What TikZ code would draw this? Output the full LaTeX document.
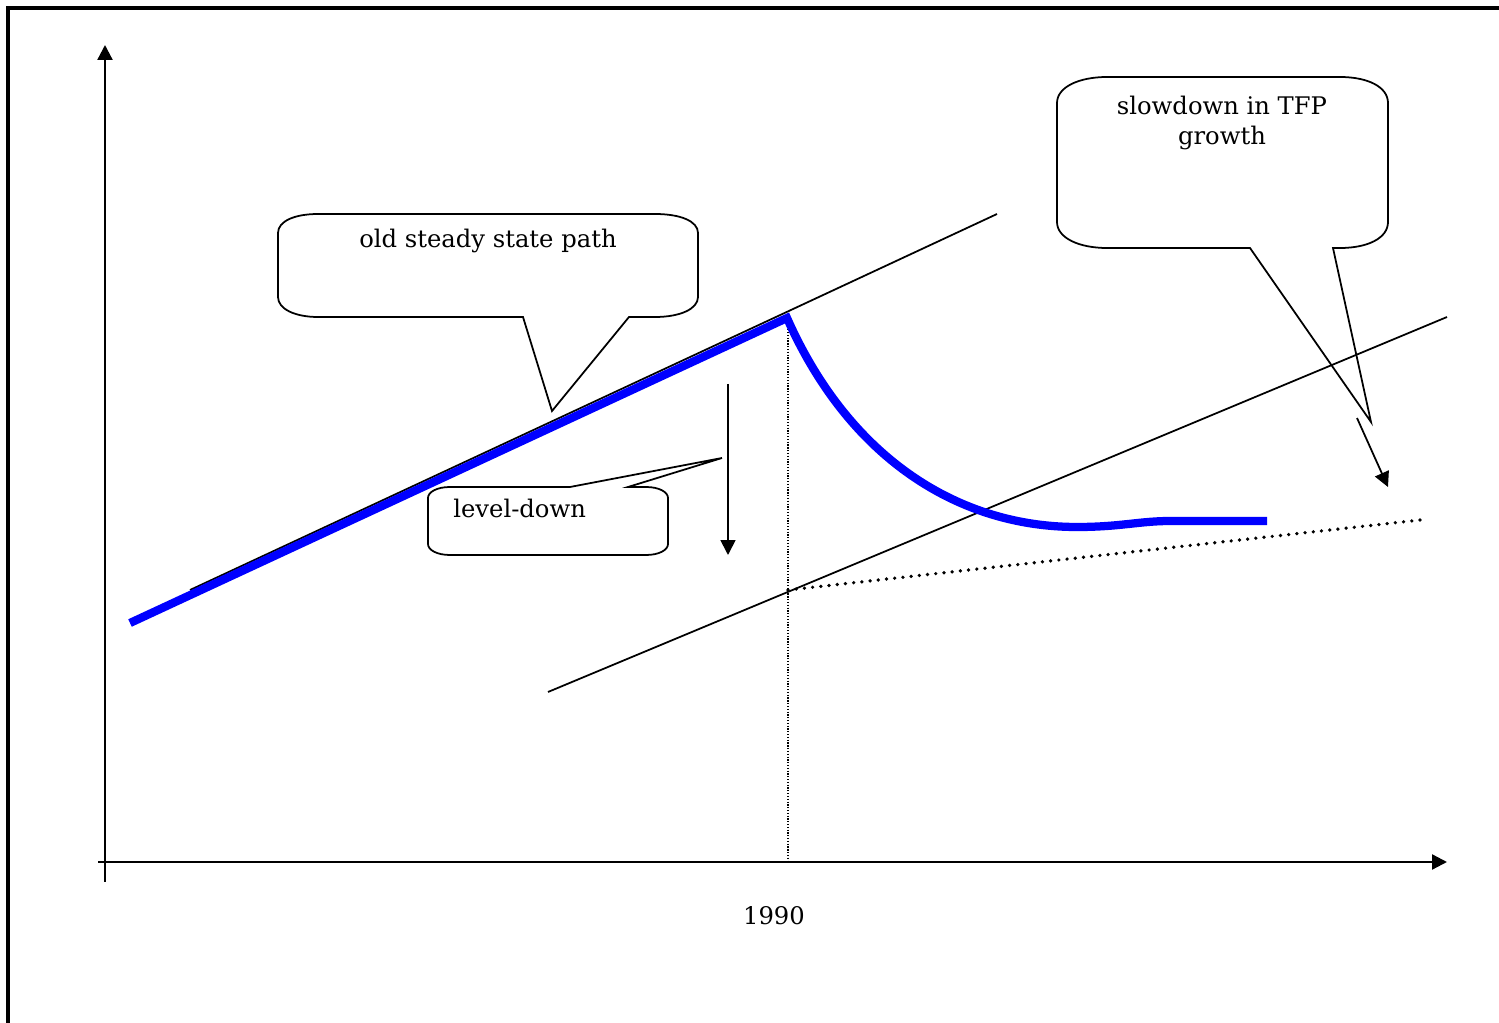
\documentclass[tikz,border=0pt]{standalone}
\usepackage{fontspec}
\setmainfont{DejaVu Serif}
\usetikzlibrary{arrows.meta}

\begin{document}
\begin{tikzpicture}[x=0.02cm, y=-0.02cm,
        axis/.style={line width=1.3pt, -{Triangle[length=8.5pt, width=8.5pt]}},
        thinline/.style={line width=1pt},
        bubble/.style={line width=1pt, line join=miter},
        txt/.style={font=\fontsize{13.8}{17.6}\selectfont, align=center, inner sep=0pt}]
        \useasboundingbox (0,0) rectangle (1499,1023);

        % Frame:
        \draw [line width=1.8pt] (8,1030) -- (8,8) -- (1510,8);

        % Axes:
        \draw [axis] (105,882) -- (105,45);
        \draw [axis] (98,862) -- (1447,862);
        \node [txt] (year) at (774,916) {1990};

        % Steady state paths
        \coordinate (oldA) at (190,590);
        \coordinate (oldB) at (997,214);
        \coordinate (newA) at (548,692);
        \coordinate (newB) at (1447,317);
        \coordinate (brk) at (788,590);
        \coordinate (brkTop) at (788,318);
        \coordinate (brkAxis) at (788,862);
        \draw [thinline] (oldA) -- (oldB);
        \draw [thinline] (newA) -- (newB);
        \draw [line width=2.1pt, dash pattern=on 0pt off 4.7pt, line cap=round] (brk) -- (1420,520);
        \draw [line width=0.7pt, dash pattern=on 0.7pt off 0.9pt] (brkTop) -- (brkAxis);

        % Actual path
        \draw [blue, line width=4.7pt] (130,623) -- (787,318)
        .. controls (850,460) and (960,527) .. (1077,527)
        .. controls (1120,527) and (1140,521) .. (1170,521) -- (1267,521);

        % Callouts:
        \draw [bubble] (523,317) -- (552,411) -- (629,317) -- (655,317)
        .. controls (680,317) and (698,309) .. (698,297) -- (698,233)
        .. controls (698,221) and (680,214) .. (655,214) -- (318,214)
        .. controls (295,214) and (278,221) .. (278,233) -- (278,297)
        .. controls (278,309) and (295,317) .. (318,317) -- cycle;
        \node [txt, anchor=base] (oldlbl) at (488,248) {old steady state path};

        \draw [bubble] (570,487) -- (722,458) -- (628,487) -- (646,487)
        .. controls (659,487) and (668,492) .. (668,498) -- (668,544)
        .. controls (668,550) and (659,555) .. (646,555) -- (450,555)
        .. controls (437,555) and (428,550) .. (428,544) -- (428,498)
        .. controls (428,492) and (437,487) .. (450,487) -- cycle;
        \node [txt, anchor=base west] (levellbl) at (453,518) {level-down};

        \draw [bubble] (1250,248) -- (1371,422) -- (1333,248) -- (1340,248)
        .. controls (1368,248) and (1388,238) .. (1388,222) -- (1388,103)
        .. controls (1388,87) and (1368,77) .. (1340,77) -- (1107,77)
        .. controls (1079,77) and (1057,87) .. (1057,103) -- (1057,222)
        .. controls (1057,238) and (1079,248) .. (1107,248) -- cycle;
        \node [txt] (tfplbl) at (1222,123) {slowdown in TFP\\growth};

        % Shift arrows
        \coordinate (dropA) at (728,384);
        \coordinate (dropB) at (728,555);
        \coordinate (tiltA) at (1357,418);
        \coordinate (tiltB) at (1388,487);
        \draw [thinline, -{Triangle[length=8.5pt, width=8.5pt]}] (dropA) -- (dropB);
        \draw [thinline, -{Triangle[length=8.5pt, width=8.5pt]}] (tiltA) -- (tiltB);

    \end{tikzpicture}
\end{document}
